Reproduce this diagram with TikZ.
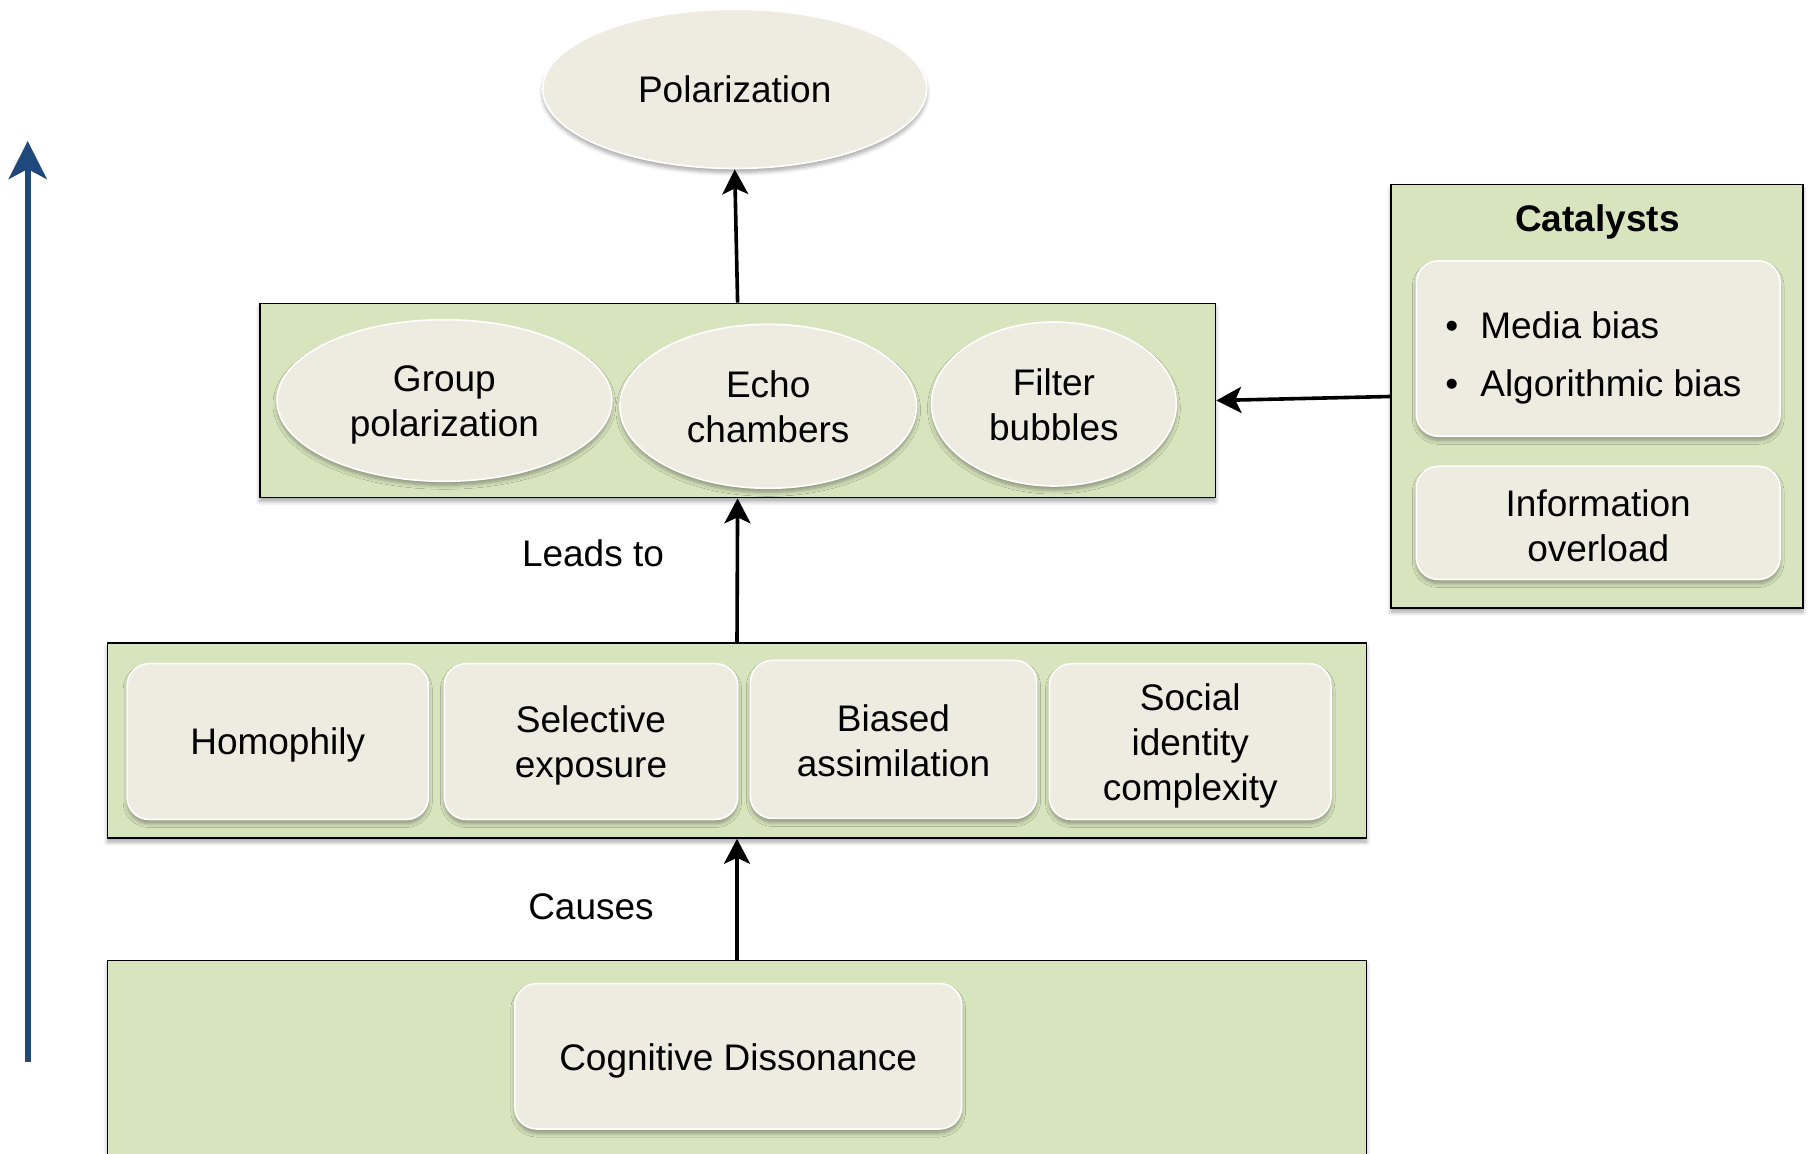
\documentclass[tikz,border=0pt]{standalone}
\usepackage{fontspec}
\setmainfont{Liberation Sans}
\usetikzlibrary{arrows.meta,shadows.blur,shapes.geometric}

\definecolor{panelgreen}{HTML}{D7E4BD}
\definecolor{tanfill}{HTML}{EEECE1}
\definecolor{axisblue}{HTML}{1F497D}

\tikzset{
  txt/.style={font=\fontsize{18.5}{22.5}\selectfont},
  softshadow/.style={blur shadow={shadow xshift=0pt, shadow yshift=-2pt,
      shadow blur radius=2pt, shadow blur steps=6, shadow opacity=35}},
  panel/.style={rectangle, draw=black, line width=0.8pt, fill=panelgreen,
      inner sep=0pt, softshadow},
  card/.style={rectangle, draw=white, line width=0.8pt, fill=tanfill,
      rounded corners=11pt, inner sep=0pt, softshadow},
  bubble/.style={ellipse, draw=white, line width=0.8pt, fill=tanfill,
      inner sep=0pt, softshadow},
  % centred caption of a card or bubble, lowered by #1
  caption/.style 2 args={label={[txt, align=center, inner sep=0pt, yshift=#1]center:#2}},
  flow/.style={-{Stealth[length=12.5pt, width=13pt, inset=3pt]}, line width=1.8pt},
}

\begin{document}
\begin{tikzpicture}[x=0.5pt, y=-0.5pt]
  \useasboundingbox (0,0) rectangle (1810,1154);
  \clip (0,0) rectangle (1810,1154);

  % upward axis on the left
  \coordinate (axisbot) at (27.7,1062);
  \coordinate (axistop) at (27.7,141);
  \draw[axisblue, line width=3pt, -{Stealth[length=19pt, width=19pt, inset=5pt]}]
    (axisbot) -- (axistop);

  % outcome
  \node[bubble, minimum width=192pt, minimum height=79.6pt,
        caption={0pt}{Polarization}] (polar) at (734.7,88.9) {};

  % middle panel: group phenomena
  \node[panel, minimum width=477.9pt, minimum height=97pt] (mid) at (737.6,400.5) {};
  \node[bubble, minimum width=167.4pt, minimum height=80.8pt,
        caption={-2.3pt}{Group\\polarization}] (group) at (444.4,400.5) {};
  \node[bubble, minimum width=148.3pt, minimum height=82pt,
        caption={0pt}{Echo\\chambers}] (echo) at (768.2,406.3) {};
  \node[bubble, minimum width=122.4pt, minimum height=82pt,
        caption={-0.5pt}{Filter\\bubbles}] (filter) at (1053.9,404) {};

  % catalysts panel
  \node[panel, minimum width=206pt, minimum height=211.8pt] (cat) at (1597,396.5) {};
  \node[txt, font=\fontsize{18.5}{22.5}\selectfont\bfseries] (cattitle) at (1597.5,221.5) {Catalysts};
  \node[card, minimum width=181.9pt, minimum height=87.7pt] (biases) at (1598.2,348.6) {};
  \node[txt, anchor=west, align=left, inner sep=0pt] (biaslist) at (1445,358.4)
    {•\hspace{11pt}Media bias\\[6.5pt]•\hspace{11pt}Algorithmic bias};
  \node[card, minimum width=181.9pt, minimum height=56.6pt,
        caption={-1.2pt}{Information\\overload}] (overload) at (1598.2,522.9) {};

  % mechanisms panel
  \node[panel, minimum width=629.6pt, minimum height=97.5pt] (row) at (737,740.5) {};
  \node[card, minimum width=150.6pt, minimum height=77.9pt,
        caption={-1.7pt}{Homophily}] (homo) at (277.7,741.6) {};
  \node[card, minimum width=146.6pt, minimum height=77.9pt,
        caption={-1.7pt}{Selective\\exposure}] (selective) at (591,741.6) {};
  \node[card, minimum width=143.1pt, minimum height=79pt,
        caption={-0.6pt}{Biased\\assimilation}] (biased) at (893.5,739.4) {};
  \node[card, minimum width=140.8pt, minimum height=77.9pt,
        caption={-2.3pt}{Social\\identity\\complexity}] (social) at (1190.2,741.6) {};

  % root panel
  \node[panel, minimum width=629.6pt, minimum height=144.8pt] (root) at (737,1105.2) {};
  \node[card, minimum width=223.4pt, minimum height=72.7pt,
        caption={-2.3pt}{Cognitive Dissonance}] (cogdis) at (738.2,1056.3) {};

  % connectors
  \draw[flow] (mid.north) -- (polar.south);
  \draw[flow] (row.north) -- (mid.south);
  \draw[flow] (root.north) -- (row.south);
  \draw[flow] (cat.west) -- (mid.east);

  % connector labels
  \node[txt] (leads) at (593,553) {Leads to};
  \node[txt] (causes) at (591,907) {Causes};
\end{tikzpicture}
\end{document}
